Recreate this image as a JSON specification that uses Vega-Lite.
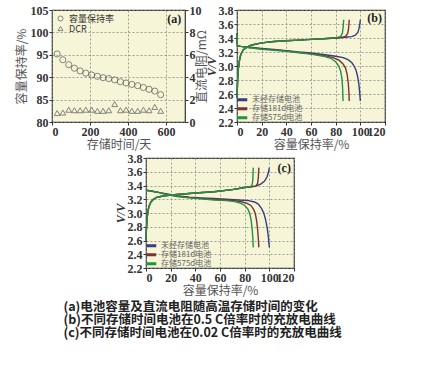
{
"$schema": "https://vega.github.io/schema/vega-lite/v6.json",
"background": "white",
"padding": {"left": 14, "top": 3, "right": 5, "bottom": 5},
"config": {
  "font": "Liberation Serif",
  "view": {"fill": "#f6f5d7", "stroke": "#333", "strokeWidth": 1.2},
  "axis": {"labelFont": "Liberation Serif", "labelFontWeight": "bold", "labelFontSize": 12, "labelColor": "#333", "labelOverlap": false, "titleFont": "Noto Sans CJK SC", "titleFontWeight": "normal", "titleFontSize": 12, "titleColor": "#555", "domain": false, "tickColor": "#333", "tickSize": 3, "gridColor": "#888", "gridDash": [2, 2], "gridWidth": 0.8, "labelPadding": 1, "titlePadding": 2},
  "legend": {"title": null, "labelFont": "Noto Sans CJK SC", "labelColor": "#555", "rowPadding": 0, "padding": 1, "offset": 2}
},
"datasets": {
  "ret": [
    {"day": 27, "ret": 95.2}, {"day": 57, "ret": 93.9}, {"day": 88, "ret": 92.8}, {"day": 118, "ret": 92.0}, {"day": 148, "ret": 91.4},
    {"day": 178, "ret": 90.9}, {"day": 209, "ret": 90.5}, {"day": 239, "ret": 90.2}, {"day": 269, "ret": 89.9}, {"day": 299, "ret": 89.7},
    {"day": 330, "ret": 89.4}, {"day": 360, "ret": 89.0}, {"day": 390, "ret": 88.7}, {"day": 420, "ret": 88.4}, {"day": 451, "ret": 88.1},
    {"day": 481, "ret": 87.7}, {"day": 511, "ret": 87.3}, {"day": 541, "ret": 86.9}, {"day": 572, "ret": 86.1}
  ],
  "dcr": [
    {"day": 27, "dcr": 0.8}, {"day": 57, "dcr": 0.85}, {"day": 88, "dcr": 1.1}, {"day": 118, "dcr": 1.05}, {"day": 148, "dcr": 1.05},
    {"day": 178, "dcr": 1.1}, {"day": 209, "dcr": 1.1}, {"day": 239, "dcr": 1.0}, {"day": 269, "dcr": 1.0}, {"day": 299, "dcr": 1.05},
    {"day": 330, "dcr": 1.6}, {"day": 360, "dcr": 1.05}, {"day": 390, "dcr": 1.1}, {"day": 420, "dcr": 1.0}, {"day": 451, "dcr": 1.0},
    {"day": 481, "dcr": 1.1}, {"day": 511, "dcr": 1.05}, {"day": 541, "dcr": 1.35}, {"day": 572, "dcr": 1.0}
  ],
  "b": [
    {"bat": "未经存储电池", "ph": "c", "i": 1, "x": 0, "v": 2.55}, {"bat": "未经存储电池", "ph": "c", "i": 2, "x": 0.5, "v": 2.8}, {"bat": "未经存储电池", "ph": "c", "i": 3, "x": 1, "v": 2.95}, {"bat": "未经存储电池", "ph": "c", "i": 4, "x": 2, "v": 3.08}, {"bat": "未经存储电池", "ph": "c", "i": 5, "x": 3, "v": 3.16}, {"bat": "未经存储电池", "ph": "c", "i": 6, "x": 5, "v": 3.23}, {"bat": "未经存储电池", "ph": "c", "i": 7, "x": 8, "v": 3.27}, {"bat": "未经存储电池", "ph": "c", "i": 8, "x": 12, "v": 3.3}, {"bat": "未经存储电池", "ph": "c", "i": 9, "x": 20, "v": 3.33}, {"bat": "未经存储电池", "ph": "c", "i": 10, "x": 30, "v": 3.35}, {"bat": "未经存储电池", "ph": "c", "i": 11, "x": 40, "v": 3.36}, {"bat": "未经存储电池", "ph": "c", "i": 12, "x": 50, "v": 3.37}, {"bat": "未经存储电池", "ph": "c", "i": 13, "x": 60, "v": 3.38}, {"bat": "未经存储电池", "ph": "c", "i": 14, "x": 70, "v": 3.39}, {"bat": "未经存储电池", "ph": "c", "i": 15, "x": 80, "v": 3.4}, {"bat": "未经存储电池", "ph": "c", "i": 16, "x": 88, "v": 3.41}, {"bat": "未经存储电池", "ph": "c", "i": 17, "x": 93, "v": 3.42}, {"bat": "未经存储电池", "ph": "c", "i": 18, "x": 96, "v": 3.44}, {"bat": "未经存储电池", "ph": "c", "i": 19, "x": 98, "v": 3.48}, {"bat": "未经存储电池", "ph": "c", "i": 20, "x": 99, "v": 3.54}, {"bat": "未经存储电池", "ph": "c", "i": 21, "x": 99.6, "v": 3.6}, {"bat": "未经存储电池", "ph": "c", "i": 22, "x": 100, "v": 3.66},
    {"bat": "未经存储电池", "ph": "d", "i": 1, "x": 0, "v": 3.47}, {"bat": "未经存储电池", "ph": "d", "i": 2, "x": 0.3, "v": 3.29}, {"bat": "未经存储电池", "ph": "d", "i": 3, "x": 3, "v": 3.28}, {"bat": "未经存储电池", "ph": "d", "i": 4, "x": 10, "v": 3.27}, {"bat": "未经存储电池", "ph": "d", "i": 5, "x": 20, "v": 3.25}, {"bat": "未经存储电池", "ph": "d", "i": 6, "x": 30, "v": 3.235}, {"bat": "未经存储电池", "ph": "d", "i": 7, "x": 40, "v": 3.22}, {"bat": "未经存储电池", "ph": "d", "i": 8, "x": 50, "v": 3.2}, {"bat": "未经存储电池", "ph": "d", "i": 9, "x": 60, "v": 3.185}, {"bat": "未经存储电池", "ph": "d", "i": 10, "x": 70, "v": 3.165}, {"bat": "未经存储电池", "ph": "d", "i": 11, "x": 80, "v": 3.14}, {"bat": "未经存储电池", "ph": "d", "i": 12, "x": 86, "v": 3.12}, {"bat": "未经存储电池", "ph": "d", "i": 13, "x": 90, "v": 3.09}, {"bat": "未经存储电池", "ph": "d", "i": 14, "x": 93, "v": 3.05}, {"bat": "未经存储电池", "ph": "d", "i": 15, "x": 95, "v": 3.0}, {"bat": "未经存储电池", "ph": "d", "i": 16, "x": 96.5, "v": 2.94}, {"bat": "未经存储电池", "ph": "d", "i": 17, "x": 97.8, "v": 2.85}, {"bat": "未经存储电池", "ph": "d", "i": 18, "x": 98.8, "v": 2.74}, {"bat": "未经存储电池", "ph": "d", "i": 19, "x": 99.5, "v": 2.62}, {"bat": "未经存储电池", "ph": "d", "i": 20, "x": 100, "v": 2.5},
    {"bat": "存储181d电池", "ph": "c", "i": 1, "x": 0, "v": 2.55}, {"bat": "存储181d电池", "ph": "c", "i": 2, "x": 0.5, "v": 2.8}, {"bat": "存储181d电池", "ph": "c", "i": 3, "x": 1, "v": 2.95}, {"bat": "存储181d电池", "ph": "c", "i": 4, "x": 2, "v": 3.08}, {"bat": "存储181d电池", "ph": "c", "i": 5, "x": 3, "v": 3.16}, {"bat": "存储181d电池", "ph": "c", "i": 6, "x": 5, "v": 3.23}, {"bat": "存储181d电池", "ph": "c", "i": 7, "x": 8, "v": 3.27}, {"bat": "存储181d电池", "ph": "c", "i": 8, "x": 12, "v": 3.3}, {"bat": "存储181d电池", "ph": "c", "i": 9, "x": 20, "v": 3.33}, {"bat": "存储181d电池", "ph": "c", "i": 10, "x": 30, "v": 3.35}, {"bat": "存储181d电池", "ph": "c", "i": 11, "x": 40, "v": 3.36}, {"bat": "存储181d电池", "ph": "c", "i": 12, "x": 50, "v": 3.37}, {"bat": "存储181d电池", "ph": "c", "i": 13, "x": 60, "v": 3.38}, {"bat": "存储181d电池", "ph": "c", "i": 14, "x": 70, "v": 3.39}, {"bat": "存储181d电池", "ph": "c", "i": 15, "x": 80, "v": 3.4}, {"bat": "存储181d电池", "ph": "c", "i": 16, "x": 86, "v": 3.41}, {"bat": "存储181d电池", "ph": "c", "i": 17, "x": 88.5, "v": 3.43}, {"bat": "存储181d电池", "ph": "c", "i": 18, "x": 89.8, "v": 3.47}, {"bat": "存储181d电池", "ph": "c", "i": 19, "x": 90.5, "v": 3.54}, {"bat": "存储181d电池", "ph": "c", "i": 20, "x": 91, "v": 3.66},
    {"bat": "存储181d电池", "ph": "d", "i": 1, "x": 0, "v": 3.47}, {"bat": "存储181d电池", "ph": "d", "i": 2, "x": 0.3, "v": 3.29}, {"bat": "存储181d电池", "ph": "d", "i": 3, "x": 3, "v": 3.28}, {"bat": "存储181d电池", "ph": "d", "i": 4, "x": 10, "v": 3.265}, {"bat": "存储181d电池", "ph": "d", "i": 5, "x": 20, "v": 3.245}, {"bat": "存储181d电池", "ph": "d", "i": 6, "x": 30, "v": 3.23}, {"bat": "存储181d电池", "ph": "d", "i": 7, "x": 40, "v": 3.215}, {"bat": "存储181d电池", "ph": "d", "i": 8, "x": 50, "v": 3.195}, {"bat": "存储181d电池", "ph": "d", "i": 9, "x": 60, "v": 3.175}, {"bat": "存储181d电池", "ph": "d", "i": 10, "x": 70, "v": 3.15}, {"bat": "存储181d电池", "ph": "d", "i": 11, "x": 78, "v": 3.12}, {"bat": "存储181d电池", "ph": "d", "i": 12, "x": 83, "v": 3.08}, {"bat": "存储181d电池", "ph": "d", "i": 13, "x": 86, "v": 3.03}, {"bat": "存储181d电池", "ph": "d", "i": 14, "x": 88, "v": 2.97}, {"bat": "存储181d电池", "ph": "d", "i": 15, "x": 89.3, "v": 2.88}, {"bat": "存储181d电池", "ph": "d", "i": 16, "x": 90.2, "v": 2.76}, {"bat": "存储181d电池", "ph": "d", "i": 17, "x": 90.7, "v": 2.64}, {"bat": "存储181d电池", "ph": "d", "i": 18, "x": 91, "v": 2.5},
    {"bat": "存储575d电池", "ph": "c", "i": 1, "x": 0, "v": 2.55}, {"bat": "存储575d电池", "ph": "c", "i": 2, "x": 0.5, "v": 2.8}, {"bat": "存储575d电池", "ph": "c", "i": 3, "x": 1, "v": 2.95}, {"bat": "存储575d电池", "ph": "c", "i": 4, "x": 2, "v": 3.08}, {"bat": "存储575d电池", "ph": "c", "i": 5, "x": 3, "v": 3.16}, {"bat": "存储575d电池", "ph": "c", "i": 6, "x": 5, "v": 3.23}, {"bat": "存储575d电池", "ph": "c", "i": 7, "x": 8, "v": 3.27}, {"bat": "存储575d电池", "ph": "c", "i": 8, "x": 12, "v": 3.3}, {"bat": "存储575d电池", "ph": "c", "i": 9, "x": 20, "v": 3.33}, {"bat": "存储575d电池", "ph": "c", "i": 10, "x": 30, "v": 3.35}, {"bat": "存储575d电池", "ph": "c", "i": 11, "x": 40, "v": 3.36}, {"bat": "存储575d电池", "ph": "c", "i": 12, "x": 50, "v": 3.37}, {"bat": "存储575d电池", "ph": "c", "i": 13, "x": 60, "v": 3.38}, {"bat": "存储575d电池", "ph": "c", "i": 14, "x": 70, "v": 3.39}, {"bat": "存储575d电池", "ph": "c", "i": 15, "x": 80, "v": 3.405}, {"bat": "存储575d电池", "ph": "c", "i": 16, "x": 84, "v": 3.42}, {"bat": "存储575d电池", "ph": "c", "i": 17, "x": 85.5, "v": 3.47}, {"bat": "存储575d电池", "ph": "c", "i": 18, "x": 86.1, "v": 3.56}, {"bat": "存储575d电池", "ph": "c", "i": 19, "x": 86.5, "v": 3.66},
    {"bat": "存储575d电池", "ph": "d", "i": 1, "x": 0, "v": 3.47}, {"bat": "存储575d电池", "ph": "d", "i": 2, "x": 0.3, "v": 3.29}, {"bat": "存储575d电池", "ph": "d", "i": 3, "x": 3, "v": 3.28}, {"bat": "存储575d电池", "ph": "d", "i": 4, "x": 10, "v": 3.26}, {"bat": "存储575d电池", "ph": "d", "i": 5, "x": 20, "v": 3.24}, {"bat": "存储575d电池", "ph": "d", "i": 6, "x": 30, "v": 3.225}, {"bat": "存储575d电池", "ph": "d", "i": 7, "x": 40, "v": 3.21}, {"bat": "存储575d电池", "ph": "d", "i": 8, "x": 50, "v": 3.19}, {"bat": "存储575d电池", "ph": "d", "i": 9, "x": 60, "v": 3.17}, {"bat": "存储575d电池", "ph": "d", "i": 10, "x": 70, "v": 3.14}, {"bat": "存储575d电池", "ph": "d", "i": 11, "x": 76, "v": 3.11}, {"bat": "存储575d电池", "ph": "d", "i": 12, "x": 80, "v": 3.06}, {"bat": "存储575d电池", "ph": "d", "i": 13, "x": 82.5, "v": 3.0}, {"bat": "存储575d电池", "ph": "d", "i": 14, "x": 84, "v": 2.93}, {"bat": "存储575d电池", "ph": "d", "i": 15, "x": 85, "v": 2.83}, {"bat": "存储575d电池", "ph": "d", "i": 16, "x": 85.6, "v": 2.7}, {"bat": "存储575d电池", "ph": "d", "i": 17, "x": 86, "v": 2.5}
  ],
  "c": [
    {"bat": "未经存储电池", "ph": "c", "i": 1, "x": 0, "v": 2.6}, {"bat": "未经存储电池", "ph": "c", "i": 2, "x": 0.3, "v": 2.75}, {"bat": "未经存储电池", "ph": "c", "i": 3, "x": 0.8, "v": 2.9}, {"bat": "未经存储电池", "ph": "c", "i": 4, "x": 1.5, "v": 3.02}, {"bat": "未经存储电池", "ph": "c", "i": 5, "x": 2.5, "v": 3.1}, {"bat": "未经存储电池", "ph": "c", "i": 6, "x": 4, "v": 3.16}, {"bat": "未经存储电池", "ph": "c", "i": 7, "x": 6, "v": 3.2}, {"bat": "未经存储电池", "ph": "c", "i": 8, "x": 9, "v": 3.23}, {"bat": "未经存储电池", "ph": "c", "i": 9, "x": 15, "v": 3.25}, {"bat": "未经存储电池", "ph": "c", "i": 10, "x": 25, "v": 3.27}, {"bat": "未经存储电池", "ph": "c", "i": 11, "x": 40, "v": 3.29}, {"bat": "未经存储电池", "ph": "c", "i": 12, "x": 55, "v": 3.31}, {"bat": "未经存储电池", "ph": "c", "i": 13, "x": 70, "v": 3.34}, {"bat": "未经存储电池", "ph": "c", "i": 14, "x": 80, "v": 3.37}, {"bat": "未经存储电池", "ph": "c", "i": 15, "x": 85, "v": 3.38}, {"bat": "未经存储电池", "ph": "c", "i": 16, "x": 89, "v": 3.39}, {"bat": "未经存储电池", "ph": "c", "i": 17, "x": 93, "v": 3.42}, {"bat": "未经存储电池", "ph": "c", "i": 18, "x": 96, "v": 3.46}, {"bat": "未经存储电池", "ph": "c", "i": 19, "x": 98, "v": 3.52}, {"bat": "未经存储电池", "ph": "c", "i": 20, "x": 99.3, "v": 3.59}, {"bat": "未经存储电池", "ph": "c", "i": 21, "x": 100, "v": 3.66},
    {"bat": "未经存储电池", "ph": "d", "i": 1, "x": 0, "v": 3.33}, {"bat": "未经存储电池", "ph": "d", "i": 2, "x": 4, "v": 3.32}, {"bat": "未经存储电池", "ph": "d", "i": 3, "x": 10, "v": 3.3}, {"bat": "未经存储电池", "ph": "d", "i": 4, "x": 16, "v": 3.28}, {"bat": "未经存储电池", "ph": "d", "i": 5, "x": 25, "v": 3.25}, {"bat": "未经存储电池", "ph": "d", "i": 6, "x": 35, "v": 3.23}, {"bat": "未经存储电池", "ph": "d", "i": 7, "x": 45, "v": 3.22}, {"bat": "未经存储电池", "ph": "d", "i": 8, "x": 55, "v": 3.21}, {"bat": "未经存储电池", "ph": "d", "i": 9, "x": 65, "v": 3.2}, {"bat": "未经存储电池", "ph": "d", "i": 10, "x": 75, "v": 3.19}, {"bat": "未经存储电池", "ph": "d", "i": 11, "x": 83, "v": 3.18}, {"bat": "未经存储电池", "ph": "d", "i": 12, "x": 88, "v": 3.16}, {"bat": "未经存储电池", "ph": "d", "i": 13, "x": 91, "v": 3.13}, {"bat": "未经存储电池", "ph": "d", "i": 14, "x": 93.5, "v": 3.07}, {"bat": "未经存储电池", "ph": "d", "i": 15, "x": 95.5, "v": 3.0}, {"bat": "未经存储电池", "ph": "d", "i": 16, "x": 97, "v": 2.9}, {"bat": "未经存储电池", "ph": "d", "i": 17, "x": 98.3, "v": 2.78}, {"bat": "未经存储电池", "ph": "d", "i": 18, "x": 99.3, "v": 2.64}, {"bat": "未经存储电池", "ph": "d", "i": 19, "x": 100, "v": 2.5},
    {"bat": "存储181d电池", "ph": "c", "i": 1, "x": 0, "v": 2.6}, {"bat": "存储181d电池", "ph": "c", "i": 2, "x": 0.3, "v": 2.75}, {"bat": "存储181d电池", "ph": "c", "i": 3, "x": 0.8, "v": 2.9}, {"bat": "存储181d电池", "ph": "c", "i": 4, "x": 1.5, "v": 3.02}, {"bat": "存储181d电池", "ph": "c", "i": 5, "x": 2.5, "v": 3.1}, {"bat": "存储181d电池", "ph": "c", "i": 6, "x": 4, "v": 3.16}, {"bat": "存储181d电池", "ph": "c", "i": 7, "x": 6, "v": 3.2}, {"bat": "存储181d电池", "ph": "c", "i": 8, "x": 9, "v": 3.23}, {"bat": "存储181d电池", "ph": "c", "i": 9, "x": 15, "v": 3.25}, {"bat": "存储181d电池", "ph": "c", "i": 10, "x": 25, "v": 3.27}, {"bat": "存储181d电池", "ph": "c", "i": 11, "x": 40, "v": 3.29}, {"bat": "存储181d电池", "ph": "c", "i": 12, "x": 55, "v": 3.31}, {"bat": "存储181d电池", "ph": "c", "i": 13, "x": 70, "v": 3.34}, {"bat": "存储181d电池", "ph": "c", "i": 14, "x": 80, "v": 3.37}, {"bat": "存储181d电池", "ph": "c", "i": 15, "x": 85, "v": 3.38}, {"bat": "存储181d电池", "ph": "c", "i": 16, "x": 89, "v": 3.39}, {"bat": "存储181d电池", "ph": "c", "i": 17, "x": 90.5, "v": 3.43}, {"bat": "存储181d电池", "ph": "c", "i": 18, "x": 91.1, "v": 3.52}, {"bat": "存储181d电池", "ph": "c", "i": 19, "x": 91.5, "v": 3.66},
    {"bat": "存储181d电池", "ph": "d", "i": 1, "x": 0, "v": 3.33}, {"bat": "存储181d电池", "ph": "d", "i": 2, "x": 4, "v": 3.32}, {"bat": "存储181d电池", "ph": "d", "i": 3, "x": 10, "v": 3.3}, {"bat": "存储181d电池", "ph": "d", "i": 4, "x": 16, "v": 3.275}, {"bat": "存储181d电池", "ph": "d", "i": 5, "x": 25, "v": 3.245}, {"bat": "存储181d电池", "ph": "d", "i": 6, "x": 35, "v": 3.225}, {"bat": "存储181d电池", "ph": "d", "i": 7, "x": 45, "v": 3.21}, {"bat": "存储181d电池", "ph": "d", "i": 8, "x": 55, "v": 3.2}, {"bat": "存储181d电池", "ph": "d", "i": 9, "x": 65, "v": 3.19}, {"bat": "存储181d电池", "ph": "d", "i": 10, "x": 72, "v": 3.18}, {"bat": "存储181d电池", "ph": "d", "i": 11, "x": 78, "v": 3.16}, {"bat": "存储181d电池", "ph": "d", "i": 12, "x": 82, "v": 3.14}, {"bat": "存储181d电池", "ph": "d", "i": 13, "x": 85, "v": 3.11}, {"bat": "存储181d电池", "ph": "d", "i": 14, "x": 87, "v": 3.06}, {"bat": "存储181d电池", "ph": "d", "i": 15, "x": 88.5, "v": 3.0}, {"bat": "存储181d电池", "ph": "d", "i": 16, "x": 89.6, "v": 2.9}, {"bat": "存储181d电池", "ph": "d", "i": 17, "x": 90.5, "v": 2.76}, {"bat": "存储181d电池", "ph": "d", "i": 18, "x": 91.1, "v": 2.62}, {"bat": "存储181d电池", "ph": "d", "i": 19, "x": 91.5, "v": 2.5},
    {"bat": "存储575d电池", "ph": "c", "i": 1, "x": 0, "v": 2.6}, {"bat": "存储575d电池", "ph": "c", "i": 2, "x": 0.3, "v": 2.75}, {"bat": "存储575d电池", "ph": "c", "i": 3, "x": 0.8, "v": 2.9}, {"bat": "存储575d电池", "ph": "c", "i": 4, "x": 1.5, "v": 3.02}, {"bat": "存储575d电池", "ph": "c", "i": 5, "x": 2.5, "v": 3.1}, {"bat": "存储575d电池", "ph": "c", "i": 6, "x": 4, "v": 3.16}, {"bat": "存储575d电池", "ph": "c", "i": 7, "x": 6, "v": 3.2}, {"bat": "存储575d电池", "ph": "c", "i": 8, "x": 9, "v": 3.23}, {"bat": "存储575d电池", "ph": "c", "i": 9, "x": 15, "v": 3.25}, {"bat": "存储575d电池", "ph": "c", "i": 10, "x": 25, "v": 3.27}, {"bat": "存储575d电池", "ph": "c", "i": 11, "x": 40, "v": 3.29}, {"bat": "存储575d电池", "ph": "c", "i": 12, "x": 55, "v": 3.31}, {"bat": "存储575d电池", "ph": "c", "i": 13, "x": 70, "v": 3.34}, {"bat": "存储575d电池", "ph": "c", "i": 14, "x": 80, "v": 3.37}, {"bat": "存储575d电池", "ph": "c", "i": 15, "x": 84, "v": 3.38}, {"bat": "存储575d电池", "ph": "c", "i": 16, "x": 86, "v": 3.4}, {"bat": "存储575d电池", "ph": "c", "i": 17, "x": 86.6, "v": 3.48}, {"bat": "存储575d电池", "ph": "c", "i": 18, "x": 87, "v": 3.66},
    {"bat": "存储575d电池", "ph": "d", "i": 1, "x": 0, "v": 3.33}, {"bat": "存储575d电池", "ph": "d", "i": 2, "x": 4, "v": 3.32}, {"bat": "存储575d电池", "ph": "d", "i": 3, "x": 10, "v": 3.3}, {"bat": "存储575d电池", "ph": "d", "i": 4, "x": 16, "v": 3.27}, {"bat": "存储575d电池", "ph": "d", "i": 5, "x": 25, "v": 3.24}, {"bat": "存储575d电池", "ph": "d", "i": 6, "x": 35, "v": 3.22}, {"bat": "存储575d电池", "ph": "d", "i": 7, "x": 45, "v": 3.205}, {"bat": "存储575d电池", "ph": "d", "i": 8, "x": 55, "v": 3.19}, {"bat": "存储575d电池", "ph": "d", "i": 9, "x": 65, "v": 3.18}, {"bat": "存储575d电池", "ph": "d", "i": 10, "x": 72, "v": 3.165}, {"bat": "存储575d电池", "ph": "d", "i": 11, "x": 77, "v": 3.14}, {"bat": "存储575d电池", "ph": "d", "i": 12, "x": 80, "v": 3.11}, {"bat": "存储575d电池", "ph": "d", "i": 13, "x": 82.5, "v": 3.06}, {"bat": "存储575d电池", "ph": "d", "i": 14, "x": 84, "v": 3.0}, {"bat": "存储575d电池", "ph": "d", "i": 15, "x": 85.2, "v": 2.9}, {"bat": "存储575d电池", "ph": "d", "i": 16, "x": 86, "v": 2.78}, {"bat": "存储575d电池", "ph": "d", "i": 17, "x": 86.6, "v": 2.64}, {"bat": "存储575d电池", "ph": "d", "i": 18, "x": 87, "v": 2.5}
  ]
},
"title": {"text": ["(a)电池容量及直流电阻随高温存储时间的变化", "(b)不同存储时间电池在0.5 C倍率时的充放电曲线", "(c)不同存储时间电池在0.02 C倍率时的充放电曲线"], "orient": "bottom", "anchor": "start", "frame": "bounds", "dx": 49, "offset": 4, "font": "Noto Sans CJK SC", "fontSize": 12.5, "fontWeight": "bold", "color": "#222", "lineHeight": 13},
"spacing": 0,
"resolve": {"scale": {"color": "independent", "shape": "independent"}, "legend": {"color": "independent", "shape": "independent"}},
"vconcat": [
  {
    "spacing": 52,
    "bounds": "flush",
    "resolve": {"scale": {"color": "independent", "shape": "independent"}, "legend": {"color": "independent", "shape": "independent"}},
    "hconcat": [
      {
        "width": 133, "height": 112,
        "layer": [
          {
            "data": {"name": "ret"},
            "mark": {"type": "point", "filled": false, "size": 38, "color": "#555", "strokeWidth": 1},
            "encoding": {
              "x": {"field": "day", "type": "quantitative", "scale": {"domain": [0, 700]}, "axis": {"values": [0, 200, 400, 600], "labelOverlap": false, "title": "存储时间/天"}},
              "y": {"field": "ret", "type": "quantitative", "scale": {"domain": [80, 105]}, "axis": {"orient": "left", "values": [80, 85, 90, 95, 100, 105], "labelOverlap": false, "title": "容量保持率/%", "grid": true}},
              "shape": {"datum": "容量保持率", "type": "nominal", "scale": {"domain": ["容量保持率", "DCR"], "range": ["circle", "triangle-up"]}, "legend": {"orient": "top-left", "labelFontSize": 9, "labelColor": "#333", "symbolSize": 25, "symbolStrokeWidth": 1, "symbolStrokeColor": "#555", "offset": 3}}
            }
          },
          {
            "data": {"name": "dcr"},
            "mark": {"type": "point", "filled": false, "size": 34, "color": "#555", "strokeWidth": 1},
            "encoding": {
              "x": {"field": "day", "type": "quantitative", "scale": {"domain": [0, 700]}, "axis": {"values": [0, 200, 400, 600], "labelOverlap": false, "title": "存储时间/天"}},
              "y": {"field": "dcr", "type": "quantitative", "scale": {"domain": [0, 10]}, "axis": {"orient": "right", "values": [0, 2, 4, 6, 8, 10], "labelOverlap": false, "title": "直流电阻/mΩ", "grid": false, "titleAngle": 270, "titleX": 16, "titleY": 56, "titleAlign": "center", "titleBaseline": "middle"}},
              "shape": {"datum": "DCR", "type": "nominal"}
            }
          },
          {
            "data": {"values": [{}]},
            "mark": {"type": "text", "text": "(a)", "font": "Liberation Serif", "fontWeight": "bold", "fontSize": 12, "align": "right", "baseline": "top", "color": "#222"},
            "encoding": {
              "x": {"datum": 680, "type": "quantitative", "scale": {"domain": [0, 700]}, "axis": {"values": [0, 200, 400, 600], "labelOverlap": false, "title": "存储时间/天"}},
              "y": {"datum": 104, "type": "quantitative", "scale": {"domain": [80, 105]}, "axis": null}
            }
          }
        ],
        "resolve": {"scale": {"y": "independent"}}
      },
      {
        "width": 148, "height": 112,
        "layer": [
          {
            "data": {"name": "b"},
            "mark": {"type": "line", "strokeWidth": 1.4},
            "encoding": {
              "x": {"field": "x", "type": "quantitative", "scale": {"domain": [0, 120]}, "axis": {"values": [0, 20, 40, 60, 80, 100, 120], "labelOverlap": false, "title": "容量保持率/%"}},
              "y": {"field": "v", "type": "quantitative", "scale": {"domain": [2.2, 3.8]}, "axis": {"values": [2.2, 2.4, 2.6, 2.8, 3.0, 3.2, 3.4, 3.6, 3.8], "labelOverlap": false, "format": ".1f", "grid": true, "title": "V/V", "titlePadding": 0, "titleFont": "Liberation Serif", "titleFontStyle": "italic", "titleFontWeight": "bold", "titleColor": "#333"}},
              "color": {"field": "bat", "type": "nominal", "scale": {"domain": ["未经存储电池", "存储181d电池", "存储575d电池"], "range": ["#363d80", "#7e3230", "#23913f"]}, "legend": {"orient": "bottom-left", "symbolType": "M-1.5,0H1.5", "symbolStrokeWidth": 3, "symbolSize": 49, "labelFontSize": 8, "labelOffset": 5, "labelColor": "#666", "offset": 0, "padding": 0, "clipHeight": 7.5}},
              "detail": {"field": "ph", "type": "nominal"},
              "order": {"field": "i", "type": "quantitative"}
            }
          },
          {
            "data": {"values": [{}]},
            "mark": {"type": "text", "text": "(b)", "font": "Liberation Serif", "fontWeight": "bold", "fontSize": 12, "align": "right", "baseline": "top", "color": "#222"},
            "encoding": {
              "x": {"datum": 117.5, "type": "quantitative", "scale": {"domain": [0, 120]}, "axis": {"values": [0, 20, 40, 60, 80, 100, 120], "labelOverlap": false, "title": "容量保持率/%"}},
              "y": {"datum": 3.76, "type": "quantitative", "scale": {"domain": [2.2, 3.8]}, "axis": {"values": [2.2, 2.4, 2.6, 2.8, 3.0, 3.2, 3.4, 3.6, 3.8], "labelOverlap": false, "format": ".1f", "grid": true, "title": "V/V", "titlePadding": 0, "titleFont": "Liberation Serif", "titleFontStyle": "italic", "titleFontWeight": "bold", "titleColor": "#333"}}
            }
          }
        ]
      }
    ]
  },
  {
    "spacing": 0,
    "resolve": {"scale": {"color": "independent"}, "legend": {"color": "independent"}},
    "hconcat": [
      {
        "width": 61, "height": 10,
        "view": {"fill": "white", "stroke": null},
        "data": {"values": []},
        "mark": "point",
        "encoding": {}
      },
      {
        "width": 148, "height": 110,
        "layer": [
          {
            "data": {"name": "c"},
            "mark": {"type": "line", "strokeWidth": 1.4},
            "encoding": {
              "x": {"field": "x", "type": "quantitative", "scale": {"domain": [0, 120]}, "axis": {"values": [0, 20, 40, 60, 80, 100, 120], "labelOverlap": false, "title": "容量保持率/%"}},
              "y": {"field": "v", "type": "quantitative", "scale": {"domain": [2.2, 3.8]}, "axis": {"values": [2.2, 2.4, 2.6, 2.8, 3.0, 3.2, 3.4, 3.6, 3.8], "labelOverlap": false, "format": ".1f", "grid": true, "title": "V/V", "titlePadding": 0, "titleFont": "Liberation Serif", "titleFontStyle": "italic", "titleFontWeight": "bold", "titleColor": "#333"}},
              "color": {"field": "bat", "type": "nominal", "scale": {"domain": ["未经存储电池", "存储181d电池", "存储575d电池"], "range": ["#363d80", "#7e3230", "#23913f"]}, "legend": {"orient": "bottom-left", "symbolType": "M-1.5,0H1.5", "symbolStrokeWidth": 3, "symbolSize": 49, "labelFontSize": 8, "labelOffset": 5, "labelColor": "#666", "offset": 0, "padding": 0, "clipHeight": 7.5}},
              "detail": {"field": "ph", "type": "nominal"},
              "order": {"field": "i", "type": "quantitative"}
            }
          },
          {
            "data": {"values": [{}]},
            "mark": {"type": "text", "text": "(c)", "font": "Liberation Serif", "fontWeight": "bold", "fontSize": 12, "align": "right", "baseline": "top", "color": "#222"},
            "encoding": {
              "x": {"datum": 117.5, "type": "quantitative", "scale": {"domain": [0, 120]}, "axis": {"values": [0, 20, 40, 60, 80, 100, 120], "labelOverlap": false, "title": "容量保持率/%"}},
              "y": {"datum": 3.73, "type": "quantitative", "scale": {"domain": [2.2, 3.8]}, "axis": {"values": [2.2, 2.4, 2.6, 2.8, 3.0, 3.2, 3.4, 3.6, 3.8], "labelOverlap": false, "format": ".1f", "grid": true, "title": "V/V", "titlePadding": 0, "titleFont": "Liberation Serif", "titleFontStyle": "italic", "titleFontWeight": "bold", "titleColor": "#333"}}
            }
          }
        ]
      }
    ]
  }
]
}
